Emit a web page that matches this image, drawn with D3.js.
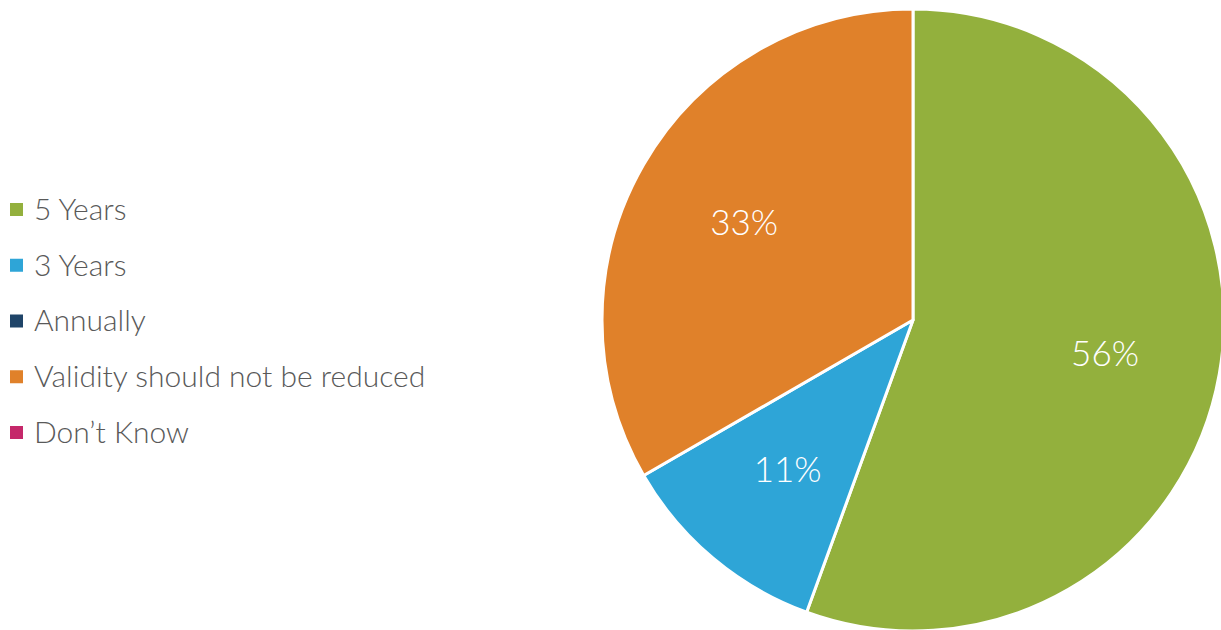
<!DOCTYPE html>
<html>
<head>
<meta charset="utf-8">
<script src="https://cdn.jsdelivr.net/npm/d3@7"></script>
<style>
  html, body { margin: 0; padding: 0; background: #ffffff; }
  svg { display: block; }
</style>
</head>
<body>
<div id="chart"></div>
<script>
// data
const categories = ["5 Years", "3 Years", "Annually", "Validity should not be reduced", "Don\u2019t Know"];
const counts = [5, 1, 0, 3, 0];
const colors = ["#93b03d", "#2ea5d7", "#1f4468", "#e0812a", "#c5286a"];

const width = 1221;
const height = 630;

const svg = d3.select("#chart")
    .append("svg")
    .attr("width", width)
    .attr("height", height);

//////////////////////////////////////////////////////
// PIE
//////////////////////////////////////////////////////

const radius = 311;
const cx = 913, cy = 320;

const data = categories.map((c, i) => ({cat: c, value: counts[i], color: colors[i]}));
const total = d3.sum(counts);

const pie = d3.pie()
    .value(d => d.value)
    .sort(null);

const arc = d3.arc()
    .innerRadius(0)
    .outerRadius(radius);

const labelArc = d3.arc()
    .innerRadius(195)
    .outerRadius(195);

const g = svg.append("g")
    .attr("transform", `translate(${cx},${cy})`);

const arcs = pie(data).filter(d => d.data.value > 0);

g.selectAll("path")
    .data(arcs)
    .enter()
    .append("path")
    .attr("d", arc)
    .attr("fill", d => d.data.color)
    .attr("stroke", "#ffffff")
    .attr("stroke-width", 3)
    .attr("stroke-linejoin", "round");

g.selectAll(".slice-label")
    .data(arcs)
    .enter()
    .append("text")
    .attr("class", "slice-label")
    .attr("transform", d => `translate(${labelArc.centroid(d)})`)
    .attr("text-anchor", "middle")
    .attr("dy", "0.35em")
    .style("font-family", "Lato, 'Open Sans', sans-serif")
    .style("font-weight", 300)
    .style("font-size", "35px")
    .style("fill", "#ffffff")
    .text(d => Math.round(d.data.value / total * 100) + "%");

//////////////////////////////////////////////////////
// LEGEND
//////////////////////////////////////////////////////

const ly = d3.scalePoint()
    .domain(categories)
    .range([209, 432]);

const legend = svg.append("g");

const items = legend.selectAll("g")
    .data(data)
    .enter()
    .append("g")
    .attr("transform", d => `translate(10,${ly(d.cat)})`);

items.append("rect")
    .attr("x", 0)
    .attr("y", -6)
    .attr("width", 13)
    .attr("height", 13)
    .attr("fill", d => d.color);

items.append("text")
    .attr("x", 24)
    .attr("dy", "0.36em")
    .style("font-family", "Lato, 'Open Sans', sans-serif")
    .style("font-weight", 300)
    .style("font-size", "30px")
    .style("fill", "#595959")
    .text(d => d.cat);
</script>
</body>
</html>
